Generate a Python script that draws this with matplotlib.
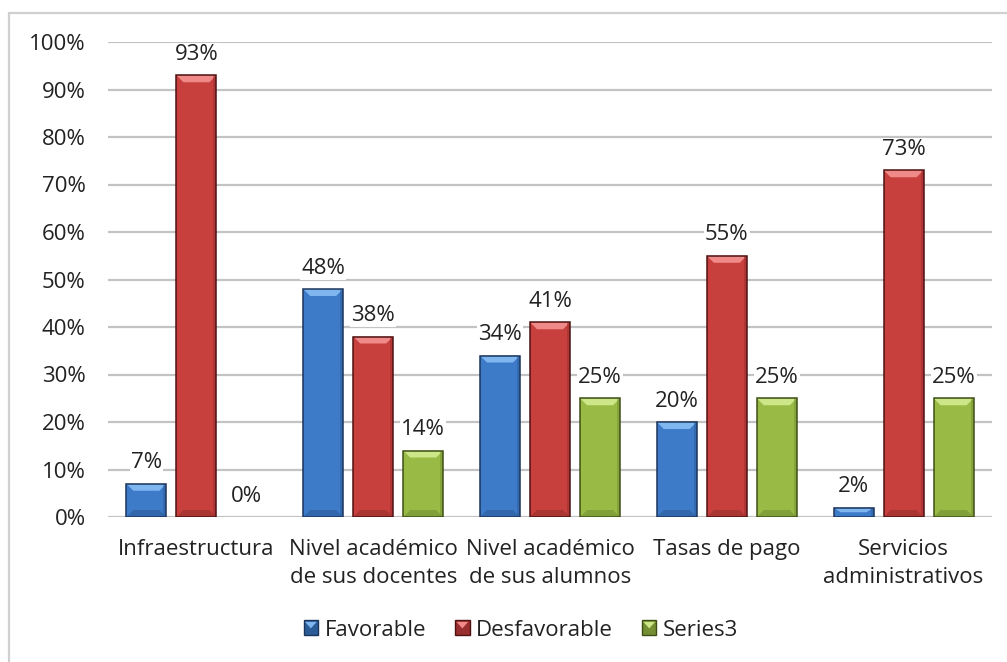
import matplotlib
matplotlib.use("Agg")
import matplotlib.pyplot as plt
from matplotlib.patches import Polygon, Rectangle, Patch
from matplotlib.legend_handler import HandlerPatch
import numpy as np

categories = ["Infraestructura", "Nivel académico\nde sus docentes", "Nivel académico\nde sus alumnos",
              "Tasas de pago", "Servicios\nadministrativos"]
series_names = ["Favorable", "Desfavorable", "Series3"]
favorable = [7, 48, 34, 20, 2]
desfavorable = [93, 38, 41, 55, 73]
series3 = [0, 14, 25, 25, 25]
y_ticks = [0, 10, 20, 30, 40, 50, 60, 70, 80, 90, 100]

face_colors = ["#3D7BC9", "#C8403E", "#99BB46"]
light_colors = ["#7FB6F0", "#F08A88", "#CDE688"]
dark_colors = ["#2C5C98", "#982E2D", "#748E33"]
edge_colors = ["#1B355C", "#4E1212", "#3F4E16"]

plt.rcParams["font.family"] = ["Open Sans", "DejaVu Sans"]
FS = 16
TXT = "#222222"

fig = plt.figure(figsize=(10.07, 6.62), dpi=100)
W, H = 1007, 662
ax = fig.add_axes([108 / W, (H - 517) / H, (992 - 108) / W, (517 - 42) / H])

x = np.arange(len(categories))
width = 0.226
step = 0.283
all_series = [favorable, desfavorable, series3]

ax.set_xlim(-0.5, len(categories) - 0.5)
ax.set_ylim(0, 100)

# data units per pixel, for the bevel highlights
px_y = 100 / 475.0
px_x = 5 / 884.0

label_box = dict(boxstyle="square,pad=0.05", facecolor="white", edgecolor="none")

for i, values in enumerate(all_series):
    pos = x + (i - 1) * step
    ax.bar(pos, values, width, color=face_colors[i], edgecolor="none", zorder=3)
    for xc, v in zip(pos, values):
        if v > 0:
            x0, x1 = xc - width / 2, xc + width / 2
            bh = min(7 * px_y, v / 2)
            inset = 7 * px_x
            # lighter top bevel
            ax.add_patch(Polygon([(x0, v), (x1, v), (x1 - inset, v - bh), (x0 + inset, v - bh)],
                                 closed=True, facecolor=light_colors[i], edgecolor="none",
                                 zorder=4))
            # darker bottom bevel
            if v > 4:
                ax.add_patch(Polygon([(x0, 0), (x1, 0), (x1 - inset, bh), (x0 + inset, bh)],
                                     closed=True, facecolor=dark_colors[i], edgecolor="none",
                                     alpha=0.6, zorder=4))
            # thin darker side strip
            ax.add_patch(Rectangle((x1 - 3 * px_x, 0), 3 * px_x, v, facecolor=dark_colors[i],
                                   edgecolor="none", alpha=0.5, zorder=4))
            ax.add_patch(Rectangle((x0, 0), width, v, facecolor="none",
                                   edgecolor=edge_colors[i], linewidth=1.1, zorder=5))
        ax.annotate(f"{v}%", (xc, v), xytext=(0, 15), textcoords="offset points",
                    ha="center", va="center", fontsize=FS, color=TXT, zorder=6,
                    bbox=label_box)

ax.set_yticks(y_ticks)
ax.set_yticklabels([f"{t}%" for t in y_ticks], fontsize=FS, color=TXT)
ax.set_xticks(x)
ax.set_xticklabels(categories, fontsize=FS, color=TXT, linespacing=1.42, va="top")
ax.tick_params(axis="y", length=0, pad=16)
ax.tick_params(axis="x", length=0, pad=16)
ax.grid(axis="y", color="#C3C3C3", linewidth=1.6, zorder=0)
ax.set_axisbelow(True)
for s in ax.spines.values():
    s.set_visible(False)


class BevelHandler(HandlerPatch):
    def create_artists(self, legend, orig_handle, xdescent, ydescent, width, height,
                       fontsize, trans):
        size = min(width, height)
        cx = -xdescent + width / 2
        cy = -ydescent + height / 2
        x0, y0 = cx - size / 2, cy - size / 2
        fc = orig_handle.get_facecolor()
        ec = orig_handle.get_edgecolor()
        r = Rectangle((x0, y0), size, size, facecolor=fc, edgecolor=ec, linewidth=1.0,
                      transform=trans)
        light = light_colors[series_names.index(orig_handle.get_label())]
        tri = Polygon([(x0 + 1, y0 + size - 1), (x0 + size - 1, y0 + size - 1),
                       (x0 + size / 2, y0 + size * 0.45)], closed=True,
                      facecolor=light, edgecolor="none", transform=trans)
        return [r, tri]


handles = [Patch(facecolor=dark_colors[i], edgecolor=edge_colors[i], label=series_names[i])
           for i in range(3)]
fig.legend(handles=handles, loc="center", bbox_to_anchor=(521 / W, 1 - 630 / H),
           ncol=3, frameon=False, fontsize=FS, handlelength=0.65, handleheight=0.65,
           handletextpad=0.3, columnspacing=1.3, labelcolor=TXT,
           handler_map={Patch: BevelHandler()})

# chart frame
fig.patches.append(Rectangle((8.5 / W, -0.1), 1.2, 1 - 12.5 / H + 0.1,
                             transform=fig.transFigure, facecolor="none",
                             edgecolor="#D0D0D0", linewidth=1.6, zorder=0))

fig.savefig("out.png", dpi=100, facecolor="white")
